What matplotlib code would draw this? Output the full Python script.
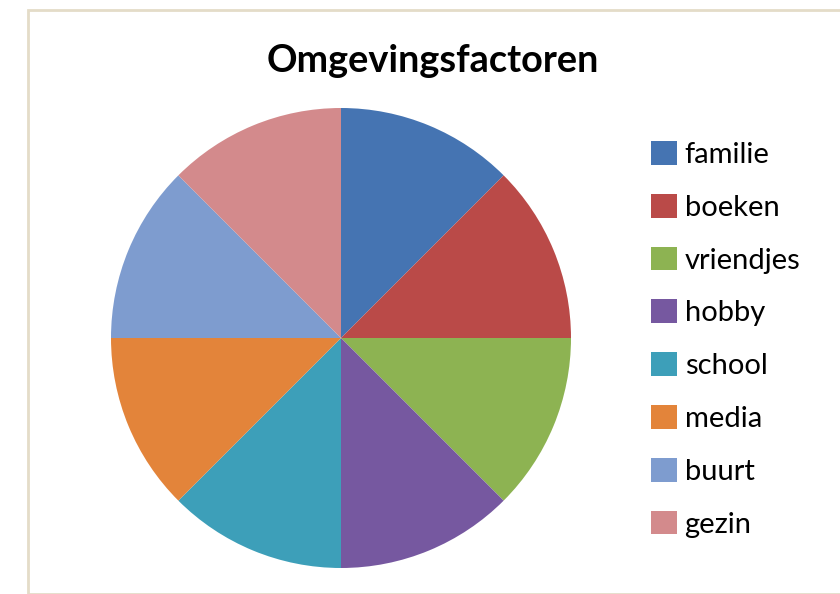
import matplotlib
matplotlib.use("Agg")
import matplotlib.pyplot as plt
from matplotlib.patches import Rectangle

categories = ["familie", "boeken", "vriendjes", "hobby", "school", "media", "buurt", "gezin"]
values = [1, 1, 1, 1, 1, 1, 1, 1]
colors = ["#4574B2", "#BA4A48", "#8DB352", "#7658A0", "#3D9FB9", "#E3843A", "#7E9CCF", "#D38A8C"]
title = "Omgevingsfactoren"

plt.rcParams['font.family'] = ['Lato', 'DejaVu Sans']

fig = plt.figure(figsize=(8.4, 5.94), dpi=100)
fig.patches.append(Rectangle((28/840, 0), 1, (594-10)/594, transform=fig.transFigure,
                             fill=False, edgecolor="#E4DCC8", linewidth=2, zorder=0))

ax = fig.add_axes([111/840, 26/594, 460/840, 460/594])
wedges, _ = ax.pie(values, colors=colors, startangle=90, counterclock=False, radius=1,
                   wedgeprops=dict(linewidth=0))
ax.set_xlim(-1, 1)
ax.set_ylim(-1, 1)
ax.set_aspect('equal')
ax.axis('off')

fig.text(433/840, 1 - 61/594, title, ha='center', va='center', fontsize=27.3, fontweight='bold', color='black')

fs = 21
leg = fig.legend(wedges, categories, loc='upper left', bbox_to_anchor=(651/840, 1 - 141/594),
                 frameon=False, fontsize=fs, handlelength=0.88, handleheight=0.88,
                 handletextpad=0.27, labelspacing=0.885, borderpad=0, borderaxespad=0)

fig.savefig("out.png", dpi=100)
